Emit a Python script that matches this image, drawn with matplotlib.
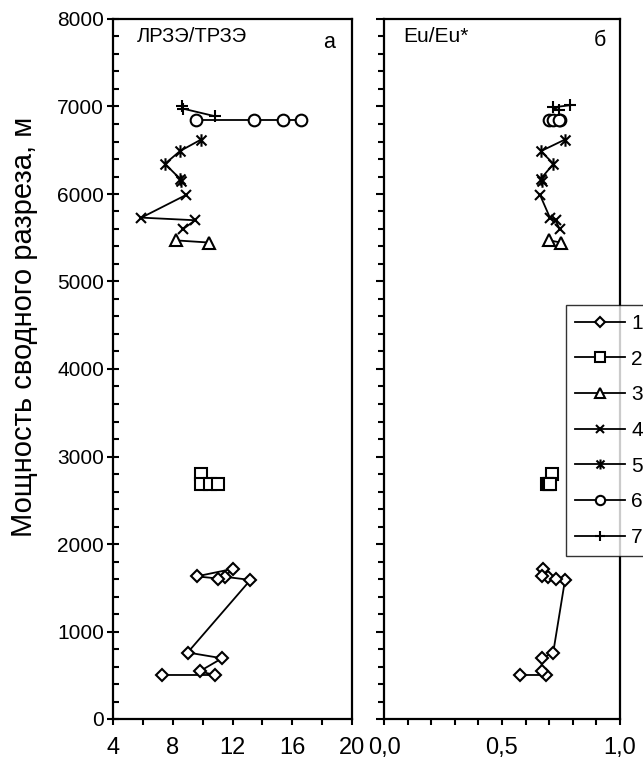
import matplotlib
matplotlib.use("Agg")
import matplotlib.pyplot as plt
from matplotlib.path import Path
from matplotlib.lines import Line2D
from matplotlib.ticker import MultipleLocator, FuncFormatter

plt.rcParams['font.family'] = ['Liberation Sans', 'DejaVu Sans']

# ---- data (depth in m; value for panel a = LREE/HREE, panel b = Eu/Eu*) ----
s1_depth = [503, 503, 545, 694, 760, 1589, 1625, 1715, 1630, 1605]
s1_a = [7.3, 10.8, 9.8, 11.3, 9.0, 13.2, 11.5, 12.0, 9.6, 11.05]
s1_b = [0.576, 0.686, 0.668, 0.668, 0.717, 0.767, 0.696, 0.675, 0.668, 0.729]

s2_depth = [2800, 2690, 2690, 2690]
s2_a = [9.9, 9.9, 10.5, 11.0]
s2_b = [0.711, 0.689, 0.70, 0.703]

s3_depth = [5470, 5445]
s3_a = [8.2, 10.45]
s3_b = [0.70, 0.75]

s4_depth = [5990, 5730, 5700, 5595]
s4_a = [8.9, 5.9, 9.5, 8.66]
s4_b = [0.661, 0.703, 0.727, 0.745]

s5_depth = [6620, 6490, 6345, 6175, 6145]
s5_a = [9.87, 8.48, 7.48, 8.48, 8.55]
s5_b = [0.765, 0.665, 0.718, 0.665, 0.668]

s6_depth = [6850, 6850, 6850, 6850]
s6_a = [9.55, 13.46, 15.4, 16.58]
s6_b = [0.70, 0.745, 0.715, 0.74]

s7_depth_a = [7010, 6975, 6890]
s7_a = [8.6, 8.7, 10.8]
s7_depth_b = [7015, 6990, 6960]
s7_b = [0.79, 0.715, 0.74]

legend_labels = ['1', '2', '3', '4', '5', '6', '7']
xticks_a = [4, 8, 12, 16, 20]
xticks_b = [0.0, 0.5, 1.0]
yticks = [0, 1000, 2000, 3000, 4000, 5000, 6000, 7000, 8000]

# asterisk marker: x with vertical bar
ast = Path([(-1, -1), (1, 1), (-1, 1), (1, -1), (0, -1.25), (0, 1.25)],
           [Path.MOVETO, Path.LINETO, Path.MOVETO, Path.LINETO, Path.MOVETO, Path.LINETO])

styles = [
    dict(marker='D', ms=6.5),
    dict(marker='s', ms=8.2),
    dict(marker='^', ms=9),
    dict(marker='x', ms=7.5),
    dict(marker=ast, ms=9),
    dict(marker='o', ms=8.4),
    dict(marker='+', ms=9),
]

W, H = 643, 766
fig = plt.figure(figsize=(W / 100, H / 100), dpi=100)
axa = fig.add_axes([113 / W, (H - 719) / H, 239 / W, 700 / H])
axb = fig.add_axes([384 / W, (H - 719) / H, 236 / W, 700 / H])

series_a = [(s1_a, s1_depth), (s2_a, s2_depth), (s3_a, s3_depth), (s4_a, s4_depth),
            (s5_a, s5_depth), (s6_a, s6_depth), (s7_a, s7_depth_a)]
series_b = [(s1_b, s1_depth), (s2_b, s2_depth), (s3_b, s3_depth), (s4_b, s4_depth),
            (s5_b, s5_depth), (s6_b, s6_depth), (s7_b, s7_depth_b)]

for ax, series in ((axa, series_a), (axb, series_b)):
    for (xv, yv), st in zip(series, styles):
        ax.plot(xv, yv, color='black', lw=1.3, marker=st['marker'], ms=st['ms'],
                mfc='white', mec='black', mew=1.5, zorder=3)
    ax.set_ylim(0, 8000)
    ax.set_yticks(yticks)
    ax.yaxis.set_minor_locator(MultipleLocator(200))
    for sp in ax.spines.values():
        sp.set_linewidth(1.6)
        sp.set_color('black')

XFS = 17
# panel a
axa.set_xlim(4, 20)
axa.set_xticks(xticks_a)
axa.xaxis.set_minor_locator(MultipleLocator(2))
axa.tick_params(axis='x', which='both', direction='out', length=4, width=1.5, labelsize=XFS, pad=9)
axa.tick_params(axis='y', which='major', direction='inout', length=9, width=1.5, labelsize=15, pad=2)
axa.tick_params(axis='y', which='minor', direction='in', length=4, width=1.5)
axa.set_ylabel('Мощность сводного разреза, м', fontsize=21)
axa.yaxis.set_label_coords(-0.315, 0.56)
axa.text(0.10, 0.988, 'ЛРЗЭ/ТРЗЭ', transform=axa.transAxes, fontsize=14.5, va='top', ha='left')
axa.text(216 / 239, 1 - 24 / 700, 'а', transform=axa.transAxes, fontsize=15.5, va='center', ha='center')

# panel b
axb.set_xlim(0, 1.0)
axb.set_xticks(xticks_b)
axb.xaxis.set_major_formatter(FuncFormatter(lambda v, p: f"{v:.1f}".replace('.', ',')))
axb.xaxis.set_minor_locator(MultipleLocator(0.1))
axb.tick_params(axis='x', which='both', direction='out', length=4, width=1.5, labelsize=XFS, pad=9)
axb.tick_params(axis='y', which='major', direction='out', length=6, width=1.5, labelleft=False)
axb.tick_params(axis='y', which='minor', direction='out', length=4, width=1.5)
axb.text(0.08, 0.988, 'Eu/Eu*', transform=axb.transAxes, fontsize=15, va='top', ha='left')
axb.text(216 / 236, 1 - 22 / 700, 'б', transform=axb.transAxes, fontsize=15.5, va='center', ha='center')

# legend
handles = [Line2D([], [], color='black', lw=1.3, marker=st['marker'], ms=st['ms'] * 0.8,
                  mfc='white', mec='black', mew=1.5) for st in styles]
leg = fig.legend(handles, legend_labels, loc='upper left',
                 bbox_to_anchor=(566 / W, 1 - 305 / H), bbox_transform=fig.transFigure,
                 fontsize=15, frameon=True, fancybox=False, borderaxespad=0,
                 handlelength=2.4, handletextpad=0.3, labelspacing=0.8, borderpad=0.43)
leg.get_frame().set_edgecolor('black')
leg.get_frame().set_linewidth(1.0)
leg.set_zorder(10)

fig.savefig('out.png', dpi=100)
